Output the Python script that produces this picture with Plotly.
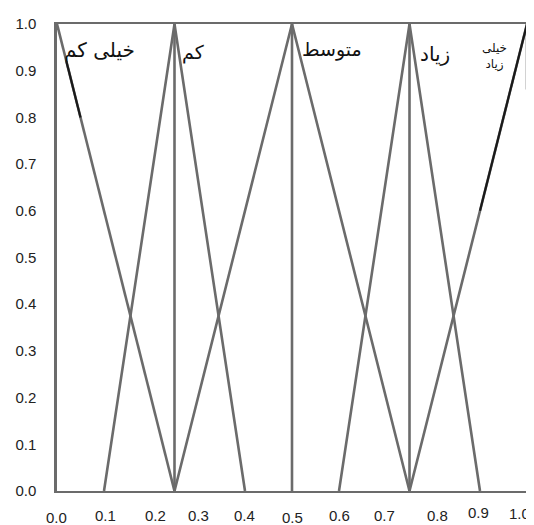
import plotly.graph_objects as go

# membership functions (x, degree)
very_low_x = [0.0, 0.25]
very_low_y = [1.0, 0.0]
low_x = [0.1, 0.25, 0.4]
low_y = [0.0, 1.0, 0.0]
medium_x = [0.25, 0.5, 0.75]
medium_y = [0.0, 1.0, 0.0]
high_x = [0.6, 0.75, 0.9]
high_y = [0.0, 1.0, 0.0]
very_high_x = [0.75, 1.0, 1.0]
very_high_y = [0.0, 1.0, 0.86]

# vertical peak markers
peak_x = [0.25, 0.5, 0.75]
peak_top = [1.0, 1.0, 1.0]

# darker (re-inked) pieces of the lines
dark_low_x = [0.02, 0.05]
dark_low_y = [0.92, 0.80]
dark_high_x = [0.9, 1.0]
dark_high_y = [0.6, 1.0]

labels = ["خیلی کم", "کم", "متوسط", "زیاد", "خیلی<br>زیاد"]
label_x = [0.09, 0.29, 0.585, 0.805, 0.93]
label_y = [0.945, 0.94, 0.945, 0.935, 0.93]
label_size = [20, 19, 19, 20, 12]

x_ticks = [0.0, 0.1, 0.2, 0.3, 0.4, 0.5, 0.6, 0.7, 0.8, 0.9, 1.0]
x_tick_text = ["0.0", "0.1", "0.2", "0.3", "0.4", "0.5", "0.6", "0.7", "0.8", "0.9", "1.0"]
# hand-placed look of the original tick labels (pixels)
x_tick_dx = [-1, 1, 4, 0, -1, 0, 0, -2, 4, -2, -8]
x_tick_dy = [-26, -24, -24, -24, -24, -26, -24, -24, -24, -21, -22]
y_ticks = [0.0, 0.1, 0.2, 0.3, 0.4, 0.5, 0.6, 0.7, 0.8, 0.9, 1.0]

LINE = "#6b6b6b"
W = 2.6
TICK_FONT = dict(family="Liberation Sans, Arial", size=15, color="#222")

fig = go.Figure()
for xs, ys in [(very_low_x, very_low_y), (low_x, low_y), (medium_x, medium_y),
               (high_x, high_y), (very_high_x, very_high_y)]:
    fig.add_trace(go.Scatter(x=xs, y=ys, mode="lines",
                             line=dict(color=LINE, width=W), hoverinfo="skip"))
for px, top in zip(peak_x, peak_top):
    fig.add_trace(go.Scatter(x=[px, px], y=[0, top], mode="lines",
                             line=dict(color=LINE, width=W), hoverinfo="skip"))
for xs, ys in [(dark_low_x, dark_low_y), (dark_high_x, dark_high_y)]:
    fig.add_trace(go.Scatter(x=xs, y=ys, mode="lines",
                             line=dict(color="#1a1a1a", width=2.2), hoverinfo="skip"))

for t, lx, ly, s in zip(labels, label_x, label_y, label_size):
    fig.add_annotation(x=lx, y=ly, text=t, showarrow=False,
                       font=dict(family="DejaVu Sans, Noto Sans", size=s, color="#111"))

for v, t, dx, dy in zip(x_ticks, x_tick_text, x_tick_dx, x_tick_dy):
    fig.add_annotation(x=v, y=0, xref="x", yref="paper", text=t, showarrow=False,
                       xanchor="center", yanchor="middle", xshift=dx, yshift=dy,
                       font=TICK_FONT)

# the page body has an 8px margin, so the figure is a little smaller than the window
fig.update_layout(
    width=526, height=517,
    margin=dict(l=44, r=7, t=8, b=34),
    plot_bgcolor="white", paper_bgcolor="white",
    showlegend=False,
    xaxis=dict(range=[0, 1], showgrid=False, zeroline=False, showticklabels=False,
               showline=True, linecolor=LINE, linewidth=2, mirror=True, ticks=""),
    yaxis=dict(range=[0, 1], tickvals=y_ticks, tickformat=".1f", showgrid=False,
               zeroline=False, showline=True, linecolor=LINE, linewidth=2.5,
               ticks="outside", ticklen=15, tickcolor="rgba(0,0,0,0)",
               tickfont=TICK_FONT),
)

fig.write_html("out.html")
